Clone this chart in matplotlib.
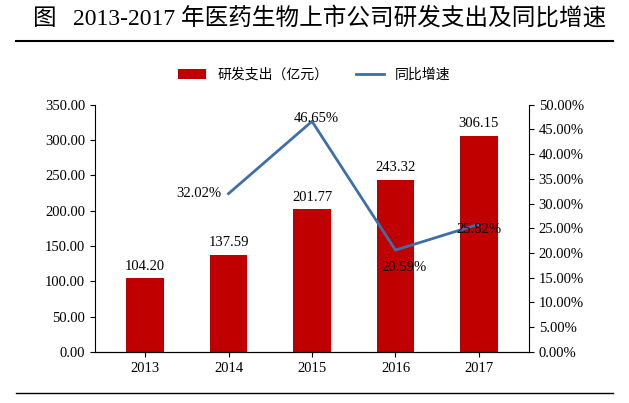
import matplotlib
matplotlib.use("Agg")
import matplotlib.pyplot as plt
from matplotlib.ticker import FuncFormatter, MultipleLocator

years = ["2013", "2014", "2015", "2016", "2017"]
spend = [104.20, 137.59, 201.77, 243.32, 306.15]
growth_years = ["2014", "2015", "2016", "2017"]
growth = [32.02, 46.65, 20.59, 25.82]

plt.rcParams["font.family"] = ["Liberation Serif", "Noto Sans CJK SC"]
fig = plt.figure(figsize=(6.29, 4.03), dpi=100)
ax = fig.add_axes([0.151, 0.127, 0.69, 0.613])
x = list(range(len(years)))
ax.bar(x, spend, width=0.45, color="#C00000", label="研发支出（亿元）")
for xi, v in zip(x, spend):
    ax.text(xi, v + 8, f"{v:.2f}", ha="center", va="bottom", fontsize=10.5)
ax.set_ylim(0, 350)
ax.yaxis.set_major_locator(MultipleLocator(50))
ax.yaxis.set_major_formatter(FuncFormatter(lambda v, p: f"{v:.2f}"))
ax.set_xticks(x)
ax.set_xticklabels(years)
ax.set_xlim(-0.6, 4.6)
for s in ["top", "right"]:
    ax.spines[s].set_visible(False)
ax.tick_params(labelsize=10.5)

ax2 = ax.twinx()
gx = [years.index(y) for y in growth_years]
ax2.plot(gx, growth, color="#3F6EA8", lw=2, label="同比增速")
offs = [(-0.35, 0), (0.05, 0.5), (0.1, -3.5), (0.0, -1)]
for xi, v, (dx, dy) in zip(gx, growth, offs):
    ax2.text(xi + dx, v + dy, f"{v:.2f}%", ha="center", va="center", fontsize=10.5)
ax2.set_ylim(0, 50)
ax2.yaxis.set_major_locator(MultipleLocator(5))
ax2.yaxis.set_major_formatter(FuncFormatter(lambda v, p: f"{v:.2f}%"))
for s in ["top", "left"]:
    ax2.spines[s].set_visible(False)
ax2.tick_params(labelsize=10.5)

h1, l1 = ax.get_legend_handles_labels()
h2, l2 = ax2.get_legend_handles_labels()
fig.legend(h1 + h2, l1 + l2, loc="center", bbox_to_anchor=(0.5, 0.815), ncol=2,
           frameon=False, prop={"family": "Noto Sans CJK SC", "size": 10})

fig.text(0.053, 0.955, "图", fontsize=17, family="Noto Sans CJK SC", va="center")
fig.text(0.116, 0.955, "2013-2017 年医药生物上市公司研发支出及同比增速", fontsize=17, va="center")
fig.add_artist(plt.Line2D([0.025, 0.975], [0.898, 0.898], color="black", lw=1.5, transform=fig.transFigure))
fig.add_artist(plt.Line2D([0.025, 0.975], [0.025, 0.025], color="black", lw=1, transform=fig.transFigure))
fig.savefig("out.png", dpi=100)
